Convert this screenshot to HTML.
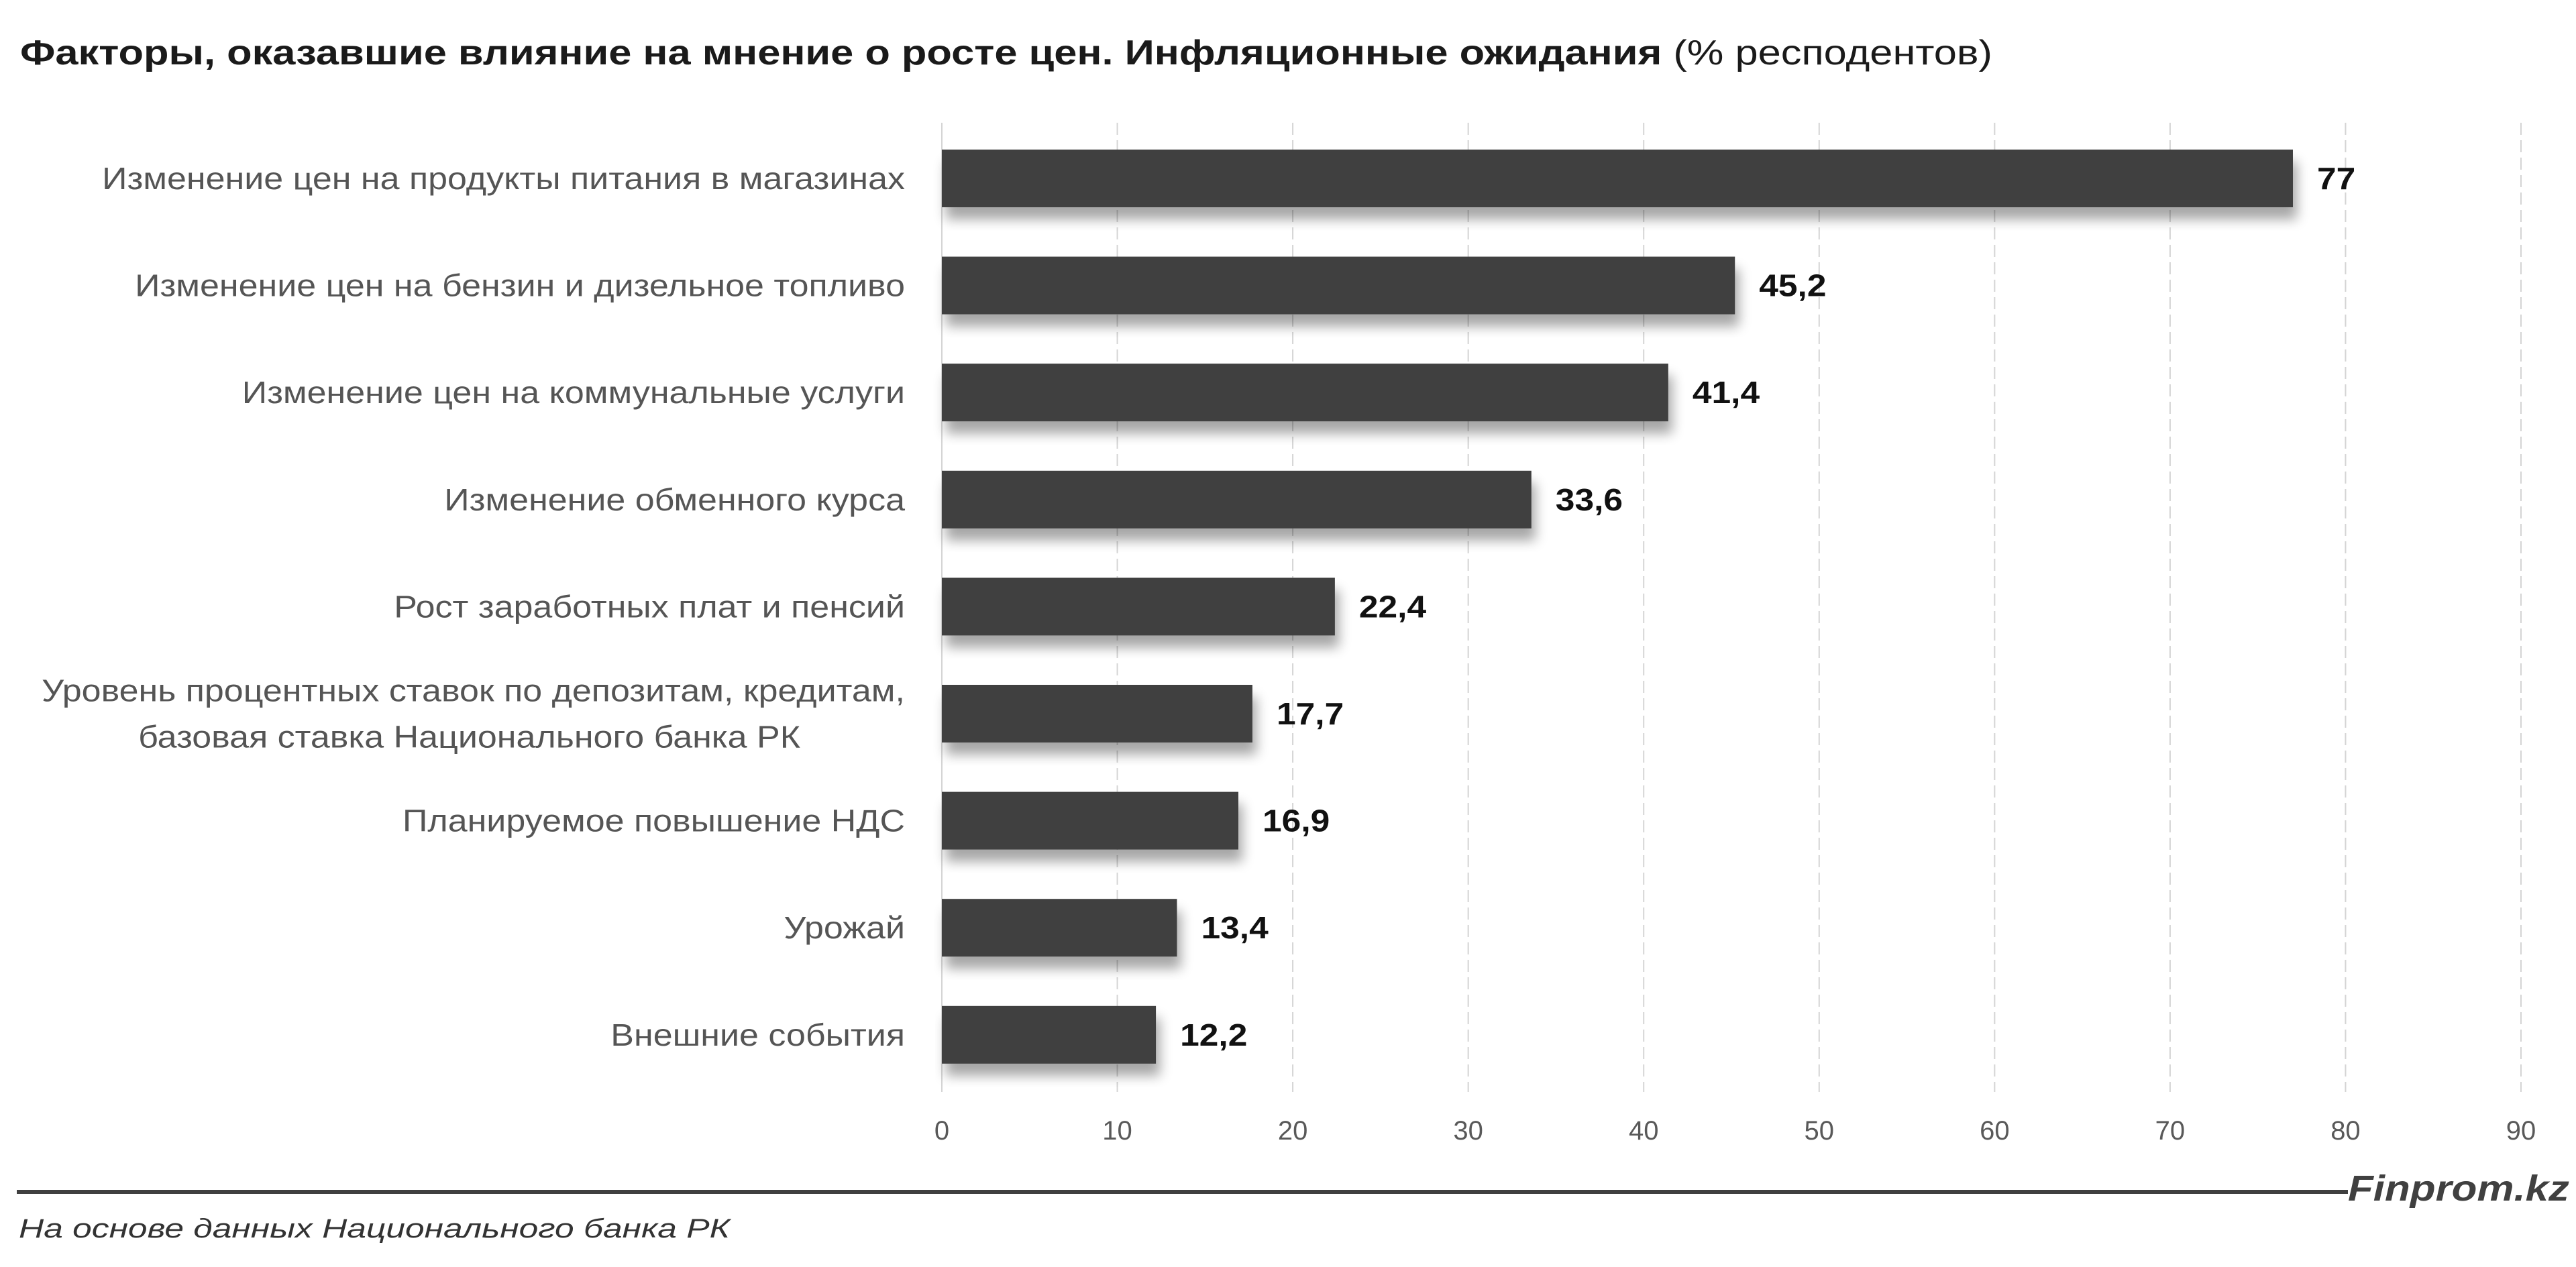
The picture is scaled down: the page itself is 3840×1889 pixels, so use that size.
<!DOCTYPE html>
<html><head><meta charset="utf-8"><style>
html,body{margin:0;padding:0;background:#fff;}
svg{display:block;}
text{font-family:"Liberation Sans","DejaVu Sans",sans-serif;}
</style></head><body>
<svg id="chart" width="3840" height="1889" viewBox="0 0 3840 1889" xmlns="http://www.w3.org/2000/svg">
<defs>
<filter id="sh" x="-5%" y="-20%" width="115%" height="160%">
<feGaussianBlur in="SourceAlpha" stdDeviation="9"/>
<feOffset dx="6" dy="18" result="b"/>
<feComponentTransfer><feFuncA type="linear" slope="0.35"/></feComponentTransfer>
<feMerge><feMergeNode/><feMergeNode in="SourceGraphic"/></feMerge>
</filter>
</defs>
<text x="30" y="96" font-size="52" fill="#1a1a1a" textLength="2940" lengthAdjust="spacingAndGlyphs"><tspan font-weight="bold">Факторы, оказавшие влияние на мнение о росте цен. Инфляционные ожидания</tspan> (% респодентов)</text>
<g id="grid"></g>
<g id="bars"></g>
<g id="labels"></g>
<g id="ticks"></g>
<line x1="25" y1="1777" x2="3500" y2="1777" stroke="#404040" stroke-width="6"/>
<text x="3830" y="1790" text-anchor="end" font-size="54" font-style="italic" font-weight="bold" fill="#404040" textLength="330" lengthAdjust="spacingAndGlyphs">Finprom.kz</text>
<text x="28" y="1845" font-size="40" font-style="italic" fill="#333" textLength="1060" lengthAdjust="spacingAndGlyphs">На основе данных Национального банка РК</text>
</svg>
<script>
const categories = [
 ["Изменение цен на продукты питания в магазинах"],
 ["Изменение цен на бензин и дизельное топливо"],
 ["Изменение цен на коммунальные услуги"],
 ["Изменение обменного курса"],
 ["Рост заработных плат и пенсий"],
 ["Уровень процентных ставок по депозитам, кредитам,", "базовая ставка Национального банка РК"],
 ["Планируемое повышение НДС"],
 ["Урожай"],
 ["Внешние события"]
];
const values = [77, 45.2, 41.4, 33.6, 22.4, 17.7, 16.9, 13.4, 12.2];
const valueLabels = ["77", "45,2", "41,4", "33,6", "22,4", "17,7", "16,9", "13,4", "12,2"];
const ticks = [0, 10, 20, 30, 40, 50, 60, 70, 80, 90];

const NS = "http://www.w3.org/2000/svg";
const X0 = 1404, X1 = 3758, XMAX = 90;
const x = v => X0 + (X1 - X0) * v / XMAX;
const Y0 = 266, STEP = 159.6, BH = 86;
const y = i => Y0 + STEP * i;
const GT = 183, GB = 1628;

function mk(tag, attrs, parent) {
  const el = document.createElementNS(NS, tag);
  for (const k in attrs) el.setAttribute(k, attrs[k]);
  parent.appendChild(el);
  return el;
}
function stretch(el, f) {
  const w = el.getComputedTextLength();
  el.setAttribute('textLength', w * f);
  el.setAttribute('lengthAdjust', 'spacingAndGlyphs');
}
const grid = document.getElementById('grid');
const bars = document.getElementById('bars');
const labels = document.getElementById('labels');
const tg = document.getElementById('ticks');

ticks.forEach(t => {
  const l = mk('line', {x1: x(t), x2: x(t), y1: GT, y2: GB, stroke: '#d4d4d4', 'stroke-width': 2, 'stroke-dasharray': t === 0 ? 'none' : '18 8'}, grid);
  
  
  const tx = mk('text', {x: x(t), y: 1699, 'text-anchor': 'middle', 'font-size': 40, fill: '#595959'}, tg);
  tx.textContent = t;
  
  
});

values.forEach((v, i) => {
  const cy = y(i);
  const r = mk('rect', {x: x(0), y: cy - BH / 2, width: x(v) - x(0), height: BH, fill: '#404040', filter: 'url(#sh)'}, bars);
  
  
  const vl = mk('text', {x: x(v) + 36, y: cy + 16, 'font-size': 46, 'font-weight': 'bold', fill: '#111'}, labels);
  vl.textContent = valueLabels[i];
  
  
  stretch(vl, 1.12);
  const lines = categories[i];
  lines.forEach((ln, j) => {
    const ly = cy + 16 + (j - (lines.length - 1) / 2) * 69;
    const cx = lines.length > 1 && j === 1 ? 1193 : 1349;
    const ct = mk('text', {x: cx, y: ly, 'text-anchor': 'end', 'font-size': 46, fill: '#555'}, labels);
    ct.textContent = ln;
    
    
    stretch(ct, 1.13);
  });
});
</script>
</body></html>
